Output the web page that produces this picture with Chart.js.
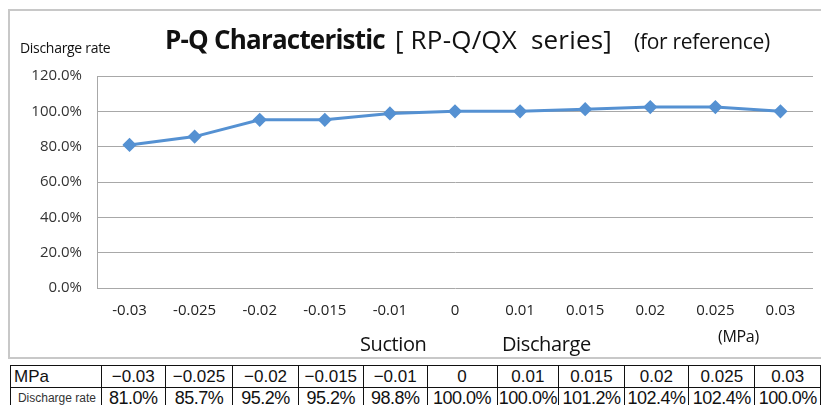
<!DOCTYPE html>
<html>
<head>
<meta charset="utf-8">
<script src="https://cdn.jsdelivr.net/npm/chart.js@4.4.1/dist/chart.umd.min.js"></script>
<style>
  html, body { margin: 0; padding: 0; background: #fff; }
  body { width: 821px; height: 405px; position: relative; overflow: hidden; font-family: "Open Sans", sans-serif; }
  #frame { position: absolute; left: 8px; top: 9px; width: 830px; height: 350px; border: 2px solid #c8c8c8; box-sizing: border-box; }
  #wrap { position: absolute; left: 0; top: 0; width: 821px; height: 360px; }
  .lbl { position: absolute; white-space: nowrap; color: #111; line-height: 1; }
  #title { left: 165px; top: 26px; }
  #title b { font-size: 26px; font-weight: 700; letter-spacing: -0.8px; }
  #title .s1 { font-size: 26px; margin-left: 10px; letter-spacing: 0.2px; }
  #title .s2 { font-size: 21px; margin-left: 22px; letter-spacing: -0.3px; }
  #ylab { left: 20px; top: 41px; font-size: 14px; letter-spacing: -0.3px; }
  #suction { left: 360px; top: 334px; font-size: 20px; letter-spacing: -0.4px; }
  #discharge { left: 502px; top: 334px; font-size: 20px; letter-spacing: -0.4px; }
  #mpa { left: 718px; top: 328px; font-size: 16px; letter-spacing: -0.3px; }
  table { position: absolute; left: 10px; top: 365px; border-collapse: collapse; font-family: "Liberation Sans Narrow", "Liberation Sans", Arial, sans-serif; }
  td { border: 1.5px solid #111; height: 21px; padding: 0; text-align: center; color: #111; font-size: 17px; line-height: 21px; }
  td.head { text-align: left; padding-left: 3px; font-family: "Liberation Sans", Arial, sans-serif; font-size: 17px; }
  td.head2 { font-size: 12px; padding-left: 2px; color: #333; }
  td.val { font-size: 18px; letter-spacing: -0.5px; }
</style>
</head>
<body>
<div id="frame"></div>
<div id="wrap"><canvas id="myChart" width="821" height="360"></canvas></div>
<div class="lbl" id="title"><b>P-Q Characteristic</b><span class="s1">[ RP-Q/QX&nbsp; series]</span><span class="s2">(for reference)</span></div>
<div class="lbl" id="ylab">Discharge rate</div>
<div class="lbl" id="suction">Suction</div>
<div class="lbl" id="discharge">Discharge</div>
<div class="lbl" id="mpa">(MPa)</div>
<table id="tbl"></table>
<script>
const pressures = ['-0.03', '-0.025', '-0.02', '-0.015', '-0.01', '0', '0.01', '0.015', '0.02', '0.025', '0.03'];
const rates = [81.0, 85.7, 95.2, 95.2, 98.8, 100.0, 100.0, 101.2, 102.4, 102.4, 100.0];
const yTicks = [0, 20, 40, 60, 80, 100, 120];
const colWidths = [90, 64, 68, 66, 65, 64, 70, 61, 65, 64, 66, 65];

// table under the chart
const tbl = document.getElementById('tbl');
const r1 = tbl.insertRow();
const r2 = tbl.insertRow();
let c = r1.insertCell(); c.textContent = 'MPa'; c.className = 'head'; c.style.width = colWidths[0] + 'px';
c = r2.insertCell(); c.textContent = 'Discharge rate'; c.className = 'head2';
pressures.forEach((p, i) => {
    const a = r1.insertCell();
    a.textContent = p.replace('-', '\u2212');
    a.style.width = colWidths[i + 1] + 'px';
    const b = r2.insertCell();
    b.textContent = rates[i].toFixed(1) + '%';
    b.className = 'val';
});

const tickFont = { family: 'Open Sans', size: 15 };
const ctx = document.getElementById('myChart');
const myChart = new Chart(ctx, {
    type: 'line',
    data: {
        labels: pressures,
        datasets: [{
            label: 'Discharge rate',
            data: rates,
            borderColor: '#5591d2',
            backgroundColor: '#5591d2',
            borderWidth: 3,
            tension: 0,
            pointStyle: 'rectRot',
            pointRadius: 5,
            pointHoverRadius: 5
        }]
    },
    options: {
        responsive: false,
        animation: false,
        events: [],
        layout: { padding: { left: 0, right: 3, top: 76, bottom: 0 } },
        plugins: {
            legend: { display: false },
            tooltip: { enabled: false }
        },
        scales: {
            x: {
                offset: true,
                grid: { display: false, drawTicks: false },
                border: { display: false },
                ticks: { color: '#222', font: tickFont, padding: 14, maxRotation: 0 },
                afterFit: (s) => { s.height = 72; }
            },
            y: {
                min: 0,
                max: 120,
                afterBuildTicks: (s) => { s.ticks = yTicks.map(v => ({ value: v })); },
                grid: { color: '#a8a8a8', lineWidth: 1, drawTicks: false },
                border: { display: true, color: '#a8a8a8', width: 1 },
                ticks: {
                    color: '#333',
                    font: tickFont,
                    padding: 15,
                    callback: (v) => v.toFixed(1) + '%'
                },
                afterFit: (s) => { s.width = 97; }
            }
        }
    }
});
</script>
</body>
</html>
